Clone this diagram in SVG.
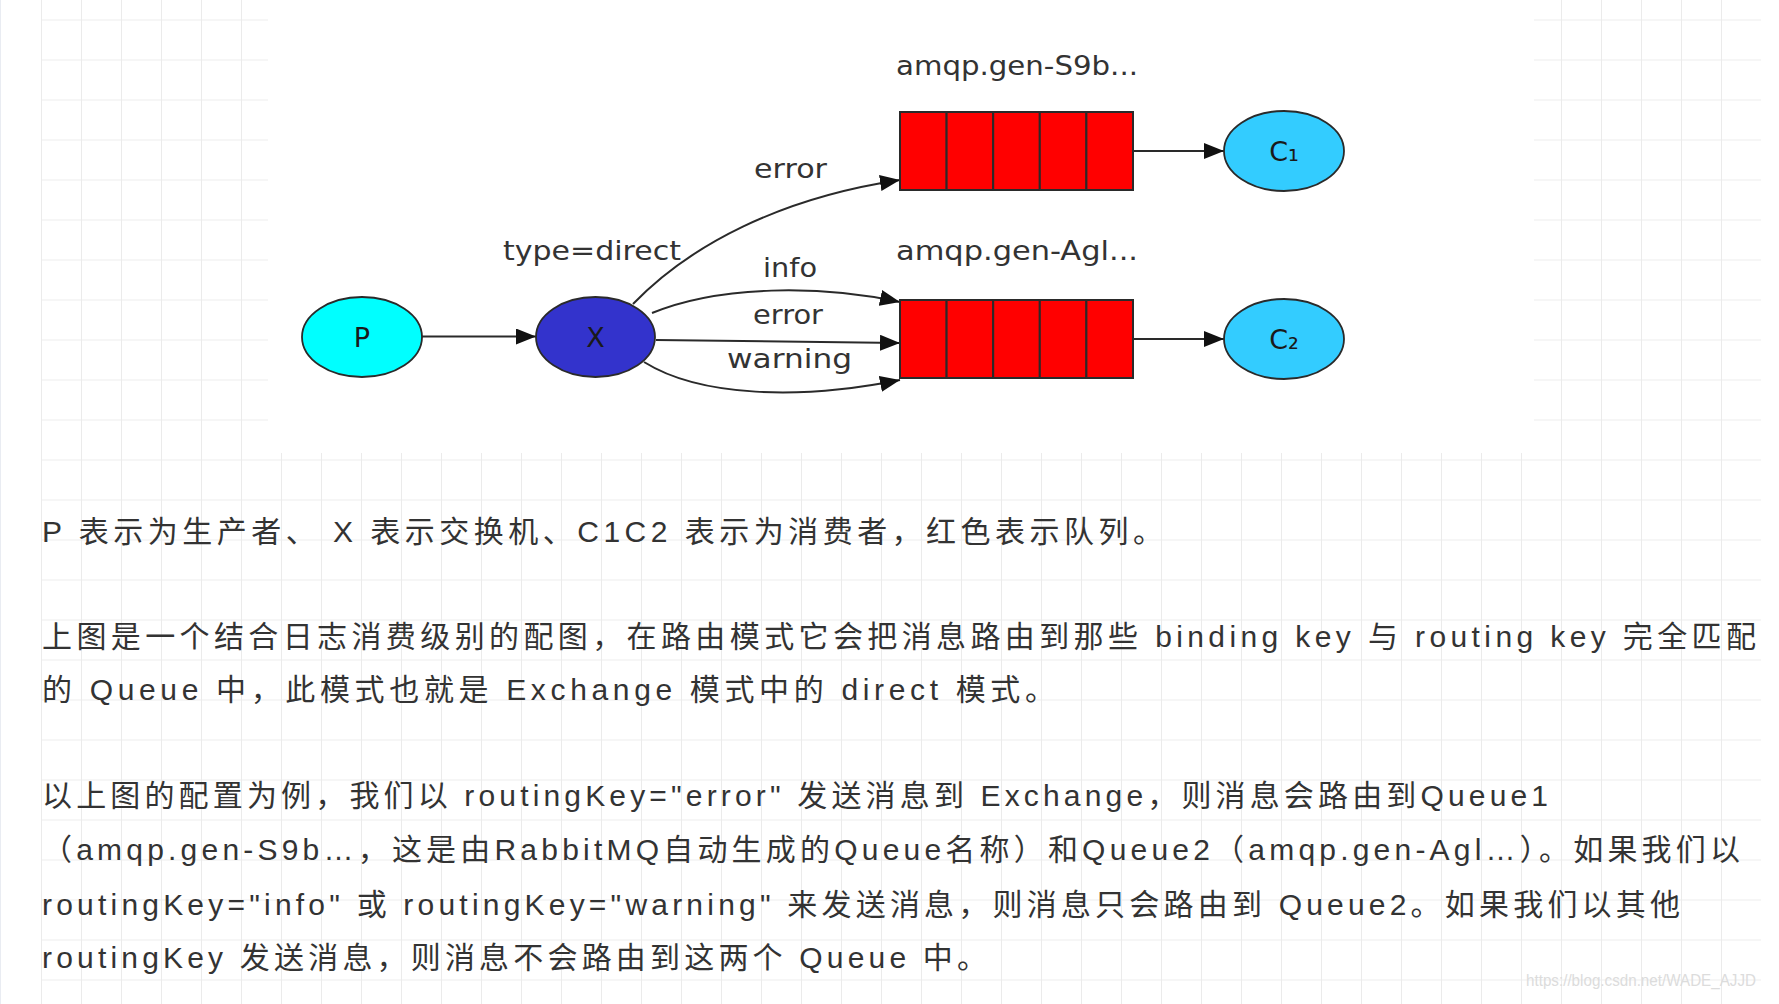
<svg xmlns="http://www.w3.org/2000/svg" width="1779" height="1004" viewBox="0 0 1779 1004">
<style>
.lbl{font-family:"DejaVu Sans","Liberation Sans",sans-serif;font-size:27px;fill:#333}
.nl{font-family:"DejaVu Sans","Liberation Sans",sans-serif;font-size:27px;fill:#1a1a1a;text-anchor:middle}
.para{font-family:"Liberation Sans","Noto Sans CJK SC",sans-serif;font-size:30px;fill:#333}
.edge{fill:none;stroke:#2a2a2a;stroke-width:2}
.node{stroke:#2a2a2a;stroke-width:1.8}
.cell{fill:#ff0000;stroke:#2a2a2a;stroke-width:2}
</style>
<defs>
<pattern id="grid" patternUnits="userSpaceOnUse" x="41" y="19" width="40" height="40">
<rect x="0" y="0" width="40" height="2" fill="#f6f6f6"/>
<rect x="0" y="0" width="1" height="40" fill="#ebebeb"/>
</pattern>
<marker id="ah" viewBox="0 0 20 16" refX="20" refY="8" markerWidth="20" markerHeight="16" markerUnits="userSpaceOnUse" orient="auto">
<path d="M0,0 L20,8 L0,16 z" fill="#111"/>
</marker>
</defs>
<rect x="0" y="0" width="1779" height="1004" fill="#fff"/>
<rect x="41" y="0" width="1720" height="1004" fill="url(#grid)"/>
<rect x="0" y="0" width="1" height="1004" fill="#e9ecf2"/>
<rect x="268" y="0" width="1266" height="453" fill="#fff"/>

<g id="connectors">
<path class="edge" d="M422,336.5 L536,336.5" marker-end="url(#ah)"/>
<path class="edge" d="M633,304 C690,245 780,198 900,180" marker-end="url(#ah)"/>
<path class="edge" d="M652,313 C720,285 820,285 900,302" marker-end="url(#ah)"/>
<path class="edge" d="M656,340 C740,341 820,342 900,343" marker-end="url(#ah)"/>
<path class="edge" d="M644,362 C700,397 800,400 900,380" marker-end="url(#ah)"/>
<path class="edge" d="M1133,151 L1224,151" marker-end="url(#ah)"/>
<path class="edge" d="M1133,339 L1224,339" marker-end="url(#ah)"/>
<text class="lbl" x="754" y="178" textLength="73" lengthAdjust="spacingAndGlyphs">error</text>
<text class="lbl" x="503" y="260" textLength="178" lengthAdjust="spacingAndGlyphs">type=direct</text>
<text class="lbl" x="763" y="277" textLength="54" lengthAdjust="spacingAndGlyphs">info</text>
<text class="lbl" x="753" y="324" textLength="70" lengthAdjust="spacingAndGlyphs">error</text>
<text class="lbl" x="727" y="368" textLength="125" lengthAdjust="spacingAndGlyphs">warning</text>
</g>

<g id="P">
<ellipse class="node" cx="362" cy="337" rx="60" ry="40" fill="#00ffff"/>
<text class="nl" x="362" y="347">P</text>
</g>
<g id="X">
<ellipse class="node" cx="595.5" cy="337" rx="59.5" ry="40" fill="#3333cc"/>
<text class="nl" x="595.5" y="347">X</text>
</g>
<g id="Q1">
<text class="lbl" x="896" y="75" textLength="242" lengthAdjust="spacingAndGlyphs">amqp.gen-S9b...</text>
<rect class="cell" x="900" y="112" width="46.6" height="78"/>
<rect class="cell" x="946.6" y="112" width="46.6" height="78"/>
<rect class="cell" x="993.2" y="112" width="46.6" height="78"/>
<rect class="cell" x="1039.8" y="112" width="46.6" height="78"/>
<rect class="cell" x="1086.4" y="112" width="46.6" height="78"/>
</g>
<g id="Q2">
<text class="lbl" x="896" y="260" textLength="242" lengthAdjust="spacingAndGlyphs">amqp.gen-Agl...</text>
<rect class="cell" x="900" y="300" width="46.6" height="78"/>
<rect class="cell" x="946.6" y="300" width="46.6" height="78"/>
<rect class="cell" x="993.2" y="300" width="46.6" height="78"/>
<rect class="cell" x="1039.8" y="300" width="46.6" height="78"/>
<rect class="cell" x="1086.4" y="300" width="46.6" height="78"/>
</g>
<g id="C1">
<ellipse class="node" cx="1284" cy="151" rx="60" ry="40" fill="#33ccff"/>
<text class="nl" x="1284" y="161">C₁</text>
</g>
<g id="C2">
<ellipse class="node" cx="1284" cy="339" rx="60" ry="40" fill="#33ccff"/>
<text class="nl" x="1284" y="349">C₂</text>
</g>

<g id="text">
<text class="para" x="42" y="542" textLength="1121" lengthAdjust="spacing">P 表示为生产者、 X 表示交换机、C1C2 表示为消费者，红色表示队列。</text>
<text class="para" x="42" y="647" textLength="1714" lengthAdjust="spacing">上图是一个结合日志消费级别的配图，在路由模式它会把消息路由到那些 binding key 与 routing key 完全匹配</text>
<text class="para" x="42" y="700" textLength="1013" lengthAdjust="spacing">的 Queue 中，此模式也就是 Exchange 模式中的 direct 模式。</text>
<text class="para" x="42" y="806" textLength="1506" lengthAdjust="spacing">以上图的配置为例，我们以 routingKey="error" 发送消息到 Exchange，则消息会路由到Queue1</text>
<text class="para" x="42" y="860" textLength="1698" lengthAdjust="spacing">（amqp.gen-S9b…，这是由RabbitMQ自动生成的Queue名称）和Queue2（amqp.gen-Agl…）。如果我们以</text>
<text class="para" x="42" y="915" textLength="1638" lengthAdjust="spacing">routingKey="info" 或 routingKey="warning" 来发送消息，则消息只会路由到 Queue2。如果我们以其他</text>
<text class="para" x="42" y="968" textLength="945" lengthAdjust="spacing">routingKey 发送消息，则消息不会路由到这两个 Queue 中。</text>
<text x="1526" y="986" textLength="230" lengthAdjust="spacingAndGlyphs" style="font-family:'Liberation Sans',sans-serif;font-size:17px;fill:#dcdcdc">https://blog.csdn.net/WADE_AJJD</text>
</g>
</svg>
